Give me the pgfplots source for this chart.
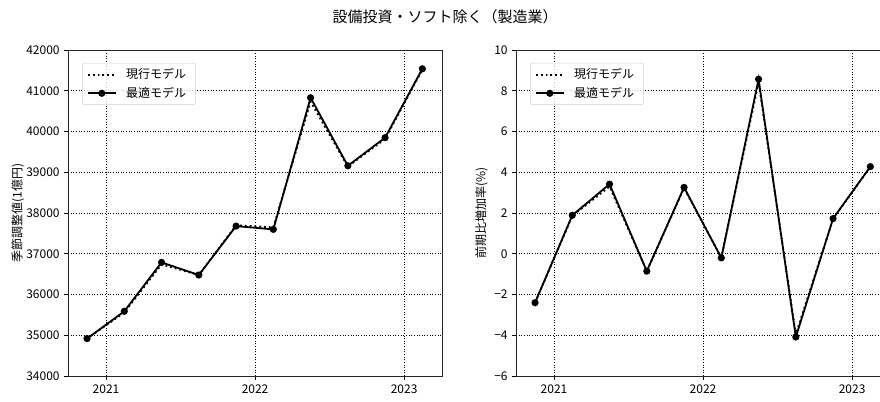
\documentclass[border=0pt]{standalone}
\usepackage{fontspec}
\setmainfont{Noto Sans CJK JP}
\usepackage{pgfplots}
\pgfplotsset{compat=1.18}
\pgfplotstableread{
x cur opt
2020.8725 34920 34920
2021.1225 35560 35590
2021.3725 36740 36790
2021.6225 36480 36480
2021.8725 37700 37680
2022.1225 37650 37600
2022.3725 40730 40830
2022.6225 39140 39160
2022.8725 39820 39850
2023.1225 41520 41540
}\levels
\pgfplotstableread{
x cur opt
2020.8725 -2.40 -2.40
2021.1225 1.86 1.89
2021.3725 3.30 3.42
2021.6225 -0.85 -0.85
2021.8725 3.22 3.26
2022.1225 -0.18 -0.20
2022.3725 8.40 8.57
2022.6225 -3.95 -4.08
2022.8725 1.72 1.73
2023.1225 4.26 4.28
}\growth
\pgfplotsset{
  base/.style={
    scale only axis, width=311.7pt, height=271.7pt, anchor=south west,
    xmin=2020.745, xmax=2023.255,
    xtick={2021,2022,2023}, xticklabels={2021,2022,2023},
    scaled y ticks=false, scaled x ticks=false,
    tick pos=left, tick align=outside, major tick length=3.5pt,
    every tick/.style={black, line width=0.8pt},
    axis line style={line width=0.8pt, black!85},
    grid=major, major grid style={black, line width=0.7pt, dash pattern=on 0.8pt off 1.4pt},
    tick label style={font=\fontsize{10}{12}\selectfont},
    label style={font=\fontsize{10}{12}\selectfont},
    legend cell align=left,
    legend style={at={(0,1)}, anchor=north west, xshift=11.7pt, yshift=-10.8pt,
      draw=black!20, rounded corners=2pt, fill=white, fill opacity=0.8, text opacity=1,
      font=\fontsize{10}{12}\selectfont, inner xsep=4pt, inner ysep=2.5pt,
      nodes={inner xsep=4pt, inner ysep=2pt}, row sep=1.5pt,
      /tikz/every even column/.append style={column sep=0pt},
      /tikz/every odd column/.append style={column sep=4pt}},
    legend image code/.code={\draw[mark repeat=2, mark phase=2, #1] plot coordinates {(0pt,0pt) (11.5pt,0pt) (23pt,0pt)};},
  },
  curs/.style={black, line width=1.5pt, dash pattern=on 1.5pt off 2.5pt, no marks},
  opts/.style={black, line width=1.5pt, solid, mark=*, mark size=2.2pt, mark options={solid}},
}
\begin{document}
\begin{tikzpicture}
\path[use as bounding box] (0,0) rectangle (733.3pt,334.2pt);
\clip (0,0) rectangle (733.3pt,334.2pt);
\node[font=\fontsize{12.5}{14}\selectfont] at (371pt,320pt) {設備投資・ソフト除く（製造業）};
\begin{axis}[base, at={(56.7pt,20.8pt)},
  ymin=34000, ymax=42000, ytick={34000,35000,...,42000},
  yticklabels={34000,35000,36000,37000,38000,39000,40000,41000,42000},
  ylabel={季節調整値(1億円)}, ylabel style={yshift=-5pt}]
\addplot[curs] table[x=x, y=cur] {\levels};
\addlegendentry{現行モデル}
\addplot[opts] table[x=x, y=opt] {\levels};
\addlegendentry{最適モデル}
\end{axis}
\begin{axis}[base, at={(430pt,20.8pt)},
  ymin=-6, ymax=10, ytick={-6,-4,...,10},
  yticklabels={−6,−4,−2,0,2,4,6,8,10},
  ylabel={前期比増加率(\%)}, ylabel style={yshift=-1.5pt}]
\addplot[curs] table[x=x, y=cur] {\growth};
\addlegendentry{現行モデル}
\addplot[opts] table[x=x, y=opt] {\growth};
\addlegendentry{最適モデル}
\end{axis}
\end{tikzpicture}
\end{document}
